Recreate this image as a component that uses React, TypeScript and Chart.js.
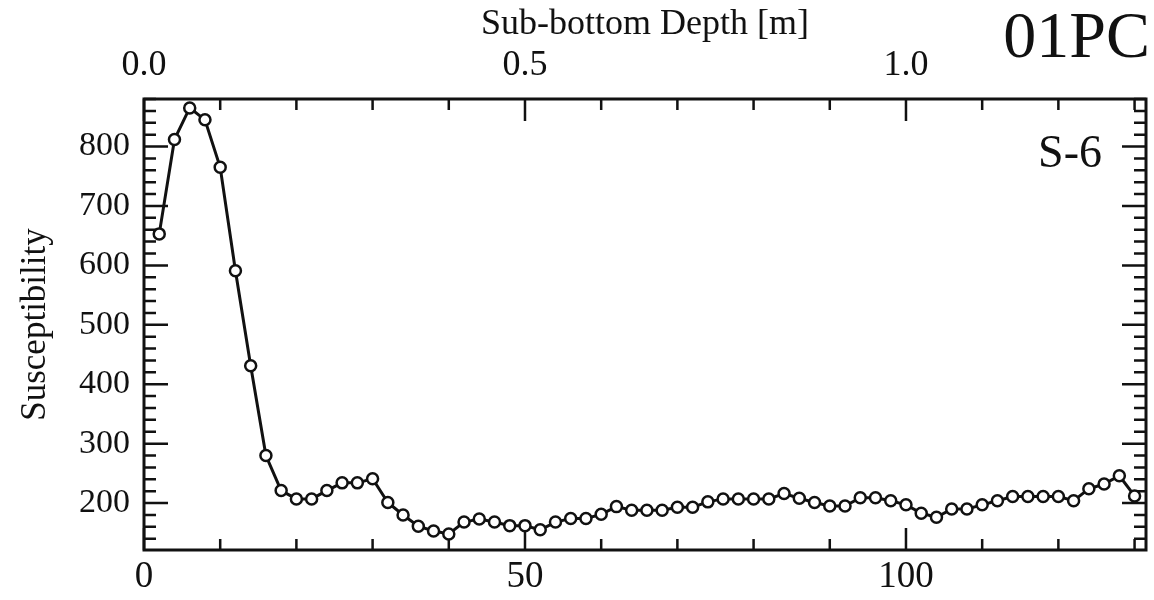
import React, { useEffect, useRef } from "react";
import { Chart, registerables } from "chart.js";

Chart.register(...registerables);

// Sample position (bottom axis) and measured susceptibility
const samplePos = [
  2, 4, 6, 8, 10, 12, 14, 16, 18, 20, 22, 24, 26, 28, 30, 32, 34, 36, 38, 40,
  42, 44, 46, 48, 50, 52, 54, 56, 58, 60, 62, 64, 66, 68, 70, 72, 74, 76, 78, 80,
  82, 84, 86, 88, 90, 92, 94, 96, 98, 100, 102, 104, 106, 108, 110, 112, 114, 116, 118, 120,
  122, 124, 126, 128, 130,
];
const susceptibility = [
  653, 812, 865, 845, 765, 591, 431, 280, 221, 207, 207, 221, 234, 234, 241, 201, 180, 161, 153, 148,
  168, 173, 168, 162, 162, 155, 168, 174, 174, 181, 194, 188, 188, 188, 193, 193, 202, 207, 207, 207,
  207, 216, 208, 201, 195, 195, 209, 209, 204, 197, 183, 176, 190, 190, 197, 204, 211, 211, 211, 211,
  204, 224, 232, 246, 212,
];

const bottomTicks = [0, 50, 100];
const topTicks = [0, 0.5, 1.0];
const leftTicks = [200, 300, 400, 500, 600, 700, 800];

const X_MIN = 0;
const X_MAX = 131.5;
const Y_MIN = 121;
const Y_MAX = 880;

const SERIF = '"Liberation Serif", "Times New Roman", serif';

const framePlugin = {
  id: "frameTicks",
  beforeDatasetsDraw(chart: any) {
    const { ctx, chartArea } = chart;
    const { left, right, top, bottom } = chartArea;
    const xs = chart.scales.x;
    const xt = chart.scales.x2;
    const ys = chart.scales.y;
    ctx.save();
    ctx.strokeStyle = "#111";
    ctx.lineCap = "butt";
    ctx.lineWidth = 2.5;
    ctx.beginPath();
    for (let v = 0; v <= X_MAX; v += 10) {
      const px = xs.getPixelForValue(v);
      const len = v % 50 === 0 ? 22 : 11;
      ctx.moveTo(px, bottom);
      ctx.lineTo(px, bottom - len);
    }
    for (let i = 0; i <= 13; i++) {
      const m = i / 10;
      const px = xt.getPixelForValue(m);
      const len = i % 5 === 0 ? 22 : 11;
      ctx.moveTo(px, top);
      ctx.lineTo(px, top + len);
    }
    for (let v = 140; v <= Y_MAX; v += 20) {
      const py = ys.getPixelForValue(v);
      const len = v % 100 === 0 ? 24 : 12;
      ctx.moveTo(left, py);
      ctx.lineTo(left + len, py);
      ctx.moveTo(right, py);
      ctx.lineTo(right - len, py);
    }
    ctx.stroke();
    ctx.lineWidth = 3;
    ctx.strokeRect(left, top, right - left, bottom - top);
    ctx.restore();
  },
  afterDraw(chart: any) {
    const { ctx } = chart;
    ctx.save();
    ctx.fillStyle = "#111";
    ctx.textBaseline = "alphabetic";
    ctx.font = `66px ${SERIF}`;
    ctx.textAlign = "right";
    ctx.fillText("01PC", 1150, 57);
    ctx.font = `46px ${SERIF}`;
    ctx.textAlign = "center";
    ctx.fillText("S-6", 1070, 167);
    ctx.restore();
  },
};

export default function App() {
  const ref = useRef<HTMLCanvasElement | null>(null);

  useEffect(() => {
    if (!ref.current) return;
    const chart = new Chart(ref.current, {
      type: "line",
      data: {
        datasets: [
          {
            data: samplePos.map((x, i) => ({ x, y: susceptibility[i] })),
            borderColor: "#111",
            borderWidth: 3,
            pointRadius: 5.5,
            pointBorderWidth: 2.5,
            pointBackgroundColor: "#fff",
            pointBorderColor: "#111",
            tension: 0,
            fill: false,
          },
        ],
      },
      options: {
        responsive: false,
        devicePixelRatio: 1,
        animation: false,
        layout: { padding: 0 },
        plugins: { legend: { display: false }, tooltip: { enabled: false } },
        scales: {
          x: {
            type: "linear",
            position: "bottom",
            min: X_MIN,
            max: X_MAX,
            grid: { display: false, drawTicks: false },
            border: { display: false },
            afterBuildTicks: (s: any) => {
              s.ticks = bottomTicks.map((v) => ({ value: v }));
            },
            ticks: {
              color: "#111",
              font: { family: SERIF, size: 37 },
              padding: 5,
              maxRotation: 0,
              autoSkip: false,
              callback: (v: any) => String(v),
            },
            afterFit: (s: any) => {
              s.height = 50;
            },
          },
          x2: {
            type: "linear",
            position: "top",
            min: X_MIN / 100,
            max: X_MAX / 100,
            grid: { display: false, drawTicks: false },
            border: { display: false },
            afterBuildTicks: (s: any) => {
              s.ticks = topTicks.map((v) => ({ value: v }));
            },
            ticks: {
              color: "#111",
              font: { family: SERIF, size: 36 },
              padding: 12,
              maxRotation: 0,
              autoSkip: false,
              callback: (v: any) => Number(v).toFixed(1),
            },
            title: {
              display: true,
              text: "Sub-bottom Depth [m]",
              color: "#111",
              font: { family: SERIF, size: 36 },
              padding: { top: 3, bottom: 0 },
            },
            afterFit: (s: any) => {
              s.height = 99;
            },
          },
          y: {
            type: "linear",
            position: "left",
            min: Y_MIN,
            max: Y_MAX,
            grid: { display: false, drawTicks: false },
            border: { display: false },
            afterBuildTicks: (s: any) => {
              s.ticks = leftTicks.map((v) => ({ value: v }));
            },
            ticks: {
              color: "#111",
              font: { family: SERIF, size: 34 },
              padding: 14,
              autoSkip: false,
              callback: (v: any) => String(v),
            },
            title: {
              display: true,
              text: "Susceptibility",
              color: "#111",
              font: { family: SERIF, size: 35 },
              padding: { top: 15, bottom: 0 },
            },
            afterFit: (s: any) => {
              s.width = 144;
            },
          },
          y2: {
            type: "linear",
            position: "right",
            min: Y_MIN,
            max: Y_MAX,
            grid: { display: false, drawTicks: false },
            border: { display: false },
            ticks: { display: false },
            afterFit: (s: any) => {
              s.width = 8;
            },
          },
        },
      } as any,
      plugins: [framePlugin],
    });
    return () => chart.destroy();
  }, []);

  return (
    <div
      style={{
        position: "absolute",
        left: 0,
        top: 0,
        width: 1154,
        height: 600,
        background: "#fff",
      }}
    >
      <canvas ref={ref} width={1154} height={600} style={{ display: "block" }} />
    </div>
  );
}
